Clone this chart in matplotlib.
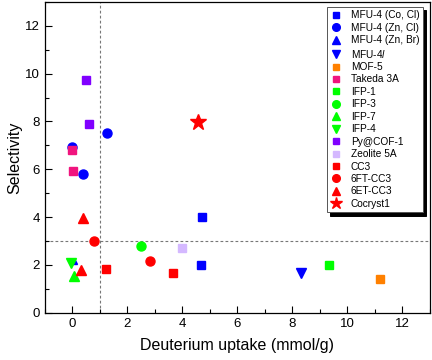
import matplotlib
matplotlib.use("Agg")
import matplotlib.pyplot as plt
from matplotlib.ticker import MultipleLocator

plt.rcParams['font.family'] = ['Liberation Sans', 'DejaVu Sans']
plt.rcParams['mathtext.fontset'] = 'custom'
plt.rcParams['mathtext.rm'] = 'Liberation Sans'
plt.rcParams['mathtext.it'] = 'Liberation Sans:italic'

# data: (uptake, selectivity) per material
names = ["MFU-4 (Co, Cl)", "MFU-4 (Zn, Cl)", "MFU-4 (Zn, Br)", r"MFU-4$\mathit{l}$",
         "MOF-5", "Takeda 3A", "IFP-1", "IFP-3", "IFP-7", "IFP-4", "Py@COF-1",
         "Zeolite 5A", "CC3", "6FT-CC3", "6ET-CC3", "Cocryst1"]
uptake = [[4.72, 4.67], [0.0, 1.24, 0.39], [0.06], [8.32],
          [11.17], [0.0, 0.01], [9.32], [2.5], [0.05], [-0.04], [0.48, 0.59],
          [4.0], [1.21, 3.67], [0.78, 2.81], [0.39, 0.32], [4.56]]
select = [[4.0, 2.0], [6.92, 7.52, 5.82], [2.15], [1.66],
          [1.41], [6.82, 5.91], [2.0], [2.8], [1.52], [2.1], [9.72, 7.9],
          [2.7], [1.83, 1.66], [3.0, 2.15], [3.96, 1.8], [7.96]]

colors = ["#0000FF", "#0000FF", "#0000FF", "#0000FF", "#FF8000", "#F0147E",
          "#00FF00", "#00FF00", "#00FF00", "#00FF00", "#8000FF", "#D4B8FF",
          "#FF0000", "#FF0000", "#FF0000", "#FF0000"]
markers = ["s", "o", "^", "v", "s", "s", "s", "o", "^", "v", "s", "s",
           "s", "o", "^", "*"]
sizes = [5.5, 6.5, 4, 7, 5.5, 5.5, 5.5, 6.5, 7, 7, 5.5, 5.5, 5.5, 6.5, 7, 12]
legSizes = [4.5, 5.5, 6, 6, 4.5, 4.5, 4.5, 5.5, 6, 6, 4.5, 4.5, 4.5, 5.5, 6, 9]


def main():
	fig = plt.figure(figsize=(4.32, 3.6), dpi=100)
	ax = fig.add_axes([0.104, 0.131, 0.891, 0.864])

	ax.axvline(1, color="#777777", ls=(0, (2.5, 2)), lw=0.8, zorder=1)
	ax.axhline(3, color="#777777", ls=(0, (2.5, 2)), lw=0.8, zorder=1)

	for i in range(len(names)):
		ax.plot(uptake[i], select[i], ls="none", marker=markers[i], ms=sizes[i],
			color=colors[i], mec=colors[i], label=names[i], zorder=3)

	ax.set_xlim(-1, 13)
	ax.set_ylim(0, 13)
	ax.xaxis.set_major_locator(MultipleLocator(2))
	ax.xaxis.set_minor_locator(MultipleLocator(1))
	ax.yaxis.set_major_locator(MultipleLocator(2))
	ax.yaxis.set_minor_locator(MultipleLocator(1))
	ax.tick_params(which="both", direction="in", labelsize=9.5, width=0.8)
	ax.tick_params(which="major", length=5)
	ax.tick_params(which="minor", length=3)
	for sp in ax.spines.values():
		sp.set_linewidth(0.9)

	ax.set_xlabel("Deuterium uptake (mmol/g)", fontsize=11.5, labelpad=6)
	ax.set_ylabel("Selectivity", fontsize=11.5, labelpad=2)

	leg = ax.legend(loc="upper right", bbox_to_anchor=(0.982, 0.984), borderaxespad=0,
		fontsize=7.3, fancybox=False, edgecolor="#555555", framealpha=1,
		shadow={"color": "black", "alpha": 1, "ox": 2.5, "oy": -2.5},
		handletextpad=1.0, labelspacing=0.24, borderpad=0.35, handlelength=1.0)
	leg.get_frame().set_linewidth(0.7)
	for h, s in zip(leg.legend_handles, legSizes):
		h.set_markersize(s)

	plt.savefig("out.png", dpi=100)
	return 0


if __name__ == '__main__':
	import sys
	sys.exit(main())
